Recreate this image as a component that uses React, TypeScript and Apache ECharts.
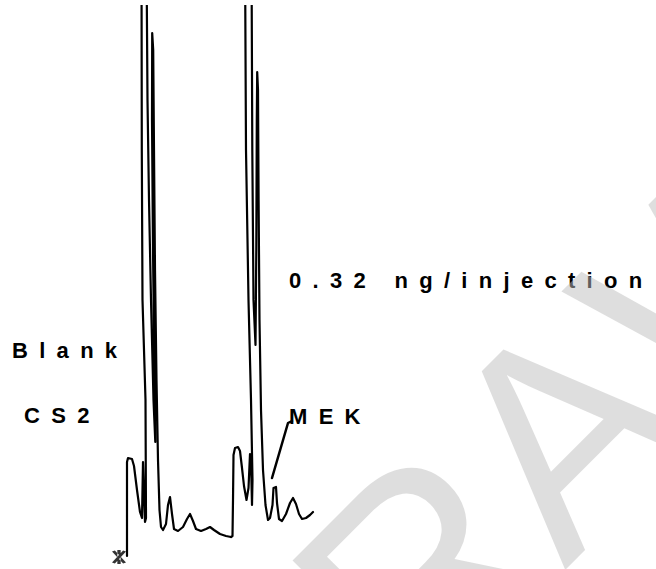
import React, { useEffect, useRef } from "react";
import * as echarts from "echarts";

// Chart-paper coordinates (mm): x along the recorder chart, y = pen response
const blankTime = [12.7, 12.7, 12.8, 13.2, 13.4, 13.7, 14.0, 14.2, 14.3, 14.5, 14.6, 14.55, 14.25, 14.18, 14.15, 14.4, 14.68, 14.75, 14.9, 15.1, 15.35, 15.53, 15.48, 15.3, 15.2, 15.22, 15.32, 15.4, 15.5, 15.65, 15.8, 15.95, 16.1, 16.3, 16.6, 16.8, 17.0, 17.2, 17.4, 17.8, 18.3, 18.7, 19.0, 19.3, 19.6, 20.1, 20.6, 21.0, 21.4, 22.0, 22.6, 23.1];
const blankResponse = [1.3, 10.7, 11.1, 11.0, 10.3, 7.9, 5.7, 5.1, 10.7, 4.7, 5.1, 16.9, 26.9, 41.9, 61.9, 61.9, 56.9, 46.9, 36.9, 26.9, 16.9, 12.7, 16.9, 31.9, 44.9, 53.6, 51.9, 41.9, 29.9, 18.9, 10.9, 5.9, 4.2, 3.9, 4.5, 6.4, 7.2, 5.5, 4.0, 3.8, 4.2, 5.0, 5.5, 4.8, 4.0, 3.8, 4.0, 4.2, 3.9, 3.5, 3.3, 3.2];

const sampleTime = [23.1, 23.25, 23.3, 23.35, 23.5, 23.8, 24.0, 24.2, 24.4, 24.65, 24.85, 25.0, 25.1, 25.2, 25.25, 25.1, 24.85, 24.6, 24.5, 24.8, 25.17, 25.23, 25.35, 25.55, 25.63, 25.68, 25.72, 25.8, 25.86, 25.95, 26.1, 26.3, 26.55, 26.8, 27.0, 27.25, 27.35, 27.6, 27.7, 27.9, 28.2, 28.6, 29.0, 29.3, 29.6, 29.9, 30.2, 30.6, 31.0, 31.3];
const sampleResponse = [3.2, 3.3, 6.9, 11.4, 12.1, 12.2, 11.8, 10.1, 8.3, 6.9, 8.1, 11.5, 10.7, 6.4, 8.9, 16.9, 26.9, 41.9, 61.9, 61.9, 56.9, 41.9, 26.9, 22.4, 31.9, 44.9, 49.7, 47.9, 36.9, 24.9, 15.9, 9.9, 6.4, 4.9, 5.1, 6.4, 8.1, 8.2, 6.6, 5.0, 4.8, 5.5, 6.6, 7.1, 6.5, 5.5, 5.0, 5.1, 5.4, 5.7];

const mekPointerTime = [27.2, 28.8, 29.2];
const mekPointerResponse = [9.1, 14.6, 14.8];

const injectionMark = [11.9, 1.2];

const labelBlank = "Blank";
const labelCS2 = "CS2";
const labelAmount = "0.32 ng/injection";
const labelMEK = "MEK";
const watermarkText = "WITHDRAWN";

const zip = (xs: number[], ys: number[]) => xs.map((x, i) => [x, ys[i]]);

const ASTERISK =
  "path://M-0.15,-1L0.15,-1L0.15,1L-0.15,1Z M0.37,0.94L0.63,0.79L-0.37,-0.94L-0.63,-0.79Z M-0.37,0.94L-0.63,0.79L0.37,-0.94L0.63,-0.79Z";

const LABEL_FONT = "'Liberation Sans', Helvetica";
const WATERMARK_FONT = "Liberation Sans, sans-serif";

export default function App() {
  const ref = useRef<HTMLDivElement>(null);

  useEffect(() => {
    if (!ref.current) return;
    const chart = echarts.init(ref.current, undefined, { renderer: "svg" });

    const label = (text: string, x: number, y: number) => ({
      type: "text",
      x,
      y,
      z: 50,
      silent: true,
      style: {
        text,
        fill: "#000",
        fontSize: 22,
        fontWeight: "bold",
        fontFamily: LABEL_FONT,
        align: "left",
        verticalAlign: "middle",
        textAlign: "left",
        textVerticalAlign: "middle",
      },
    });

    const lineStyle = { color: "#000", width: 2.2, join: "round", cap: "round" };

    chart.setOption({
      animation: false,
      grid: { left: 0, right: 0, top: 6, bottom: 0, containLabel: false },
      xAxis: { type: "value", min: 0, max: 65.6, show: false },
      yAxis: { type: "value", min: 0, max: 56.3, show: false },
      series: [
        {
          name: "Blank",
          type: "line",
          data: zip(blankTime, blankResponse),
          showSymbol: false,
          symbol: "none",
          smooth: false,
          clip: true,
          lineStyle,
        },
        {
          name: "0.32 ng/injection",
          type: "line",
          data: zip(sampleTime, sampleResponse),
          showSymbol: false,
          symbol: "none",
          smooth: false,
          clip: true,
          lineStyle,
        },
        {
          name: "MEK pointer",
          type: "line",
          data: zip(mekPointerTime, mekPointerResponse),
          showSymbol: false,
          symbol: "none",
          smooth: false,
          lineStyle: { color: "#000", width: 2.5, cap: "round", join: "round" },
        },
        {
          name: "Injection",
          type: "scatter",
          data: [injectionMark],
          symbol: ASTERISK,
          symbolSize: 14,
          itemStyle: { color: "#000" },
        },
      ],
      graphic: [
        label(labelBlank, 12, 350),
        label(labelCS2, 24, 415),
        label(labelAmount, 289, 280),
        label(labelMEK, 289, 416),
        {
          type: "text",
          x: 323,
          y: 670,
          rotation: Math.PI / 4,
          z: 100,
          silent: true,
          style: {
            text: watermarkText,
            fill: "rgba(190,190,190,0.5)",
            fontSize: 290,
            fontFamily: WATERMARK_FONT,
            fontWeight: "normal",
            align: "center",
            verticalAlign: "middle",
            textAlign: "center",
            textVerticalAlign: "middle",
          },
        },
      ],
    });

    return () => chart.dispose();
  }, []);

  return (
    <>
      <style>{`text[style*="Helvetica"]{letter-spacing:11.3px;} text[style*="sans-serif"]{font-kerning:none;}`}</style>
      <div
        ref={ref}
        style={{ position: "absolute", left: 0, top: 0, width: 656, height: 569, background: "#fff" }}
      />
    </>
  );
}
